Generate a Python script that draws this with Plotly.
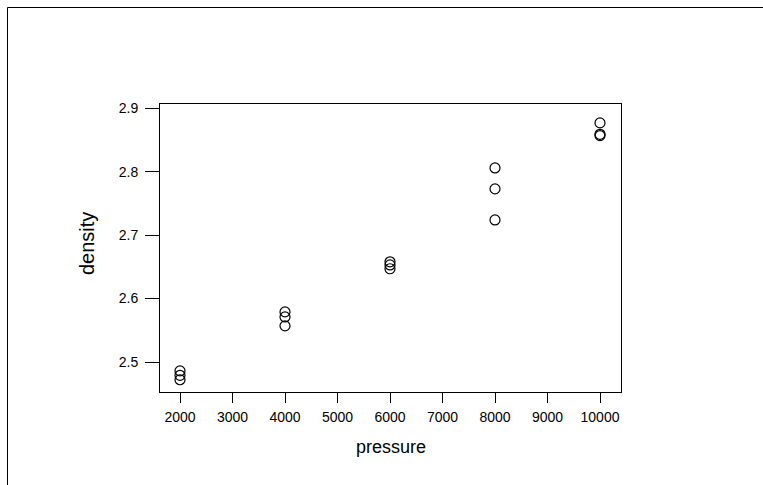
import plotly.graph_objects as go

pressure = [2000, 2000, 2000, 4000, 4000, 4000, 6000, 6000, 6000, 8000, 8000, 8000, 10000, 10000, 10000]
density = [2.486, 2.479, 2.472, 2.579, 2.571, 2.557, 2.658, 2.653, 2.647, 2.806, 2.773, 2.724, 2.877, 2.859, 2.857]
x_ticks = [2000, 3000, 4000, 5000, 6000, 7000, 8000, 9000, 10000]
y_ticks = [2.5, 2.6, 2.7, 2.8, 2.9]

W, H = 763, 485
L, R, T, B = 160, 142, 104, 93
pw, ph = W - L - R, H - T - B

FONT = "Liberation Sans, Arial, sans-serif"

fig = go.Figure(go.Scatter(
    x=pressure, y=density, mode="markers",
    marker=dict(symbol="circle-open", size=10, color="black", line=dict(width=1.2, color="black")),
    hoverinfo="x+y", showlegend=False,
))

def px_x(p):
    return (p - L) / pw

def px_y(p):
    return (H - B - p) / ph

fig.update_layout(
    width=W, height=H,
    margin=dict(l=L, r=R, t=T, b=B, pad=0),
    paper_bgcolor="white", plot_bgcolor="white",
    font=dict(family=FONT, size=14, color="black"),
    xaxis=dict(
        range=[1619, 10400], tickvals=x_ticks, ticktext=[str(v) for v in x_ticks],
        showgrid=False, zeroline=False, showline=True, mirror=True,
        linecolor="black", linewidth=1, ticks="outside", ticklen=10, tickwidth=1,
        tickcolor="black", ticklabelstandoff=2, tickfont=dict(size=14),
    ),
    yaxis=dict(
        range=[2.4527, 2.9068], tickvals=y_ticks, ticktext=[f"{v:.1f}" for v in y_ticks],
        showgrid=False, zeroline=False, showline=True, mirror=True,
        linecolor="black", linewidth=1, ticks="outside", ticklen=14, tickwidth=1,
        tickcolor="black", ticklabelstandoff=4, tickfont=dict(size=14),
    ),
    shapes=[
        dict(type="line", xref="paper", yref="paper", x0=px_x(7.5), x1=px_x(W + 5),
             y0=px_y(7.5), y1=px_y(7.5), line=dict(color="black", width=1)),
        dict(type="line", xref="paper", yref="paper", x0=px_x(7.5), x1=px_x(7.5),
             y0=px_y(7.5), y1=px_y(H + 5), line=dict(color="black", width=1)),
    ],
    annotations=[
        dict(text="pressure", xref="paper", yref="paper", x=px_x(390.5), y=px_y(447),
             xanchor="center", yanchor="middle", showarrow=False, font=dict(size=18)),
        dict(text="density", xref="paper", yref="paper", x=px_x(87), y=px_y(244),
             xanchor="center", yanchor="middle", showarrow=False, textangle=-90, font=dict(size=20)),
    ],
)

fig.write_html("out.html")
